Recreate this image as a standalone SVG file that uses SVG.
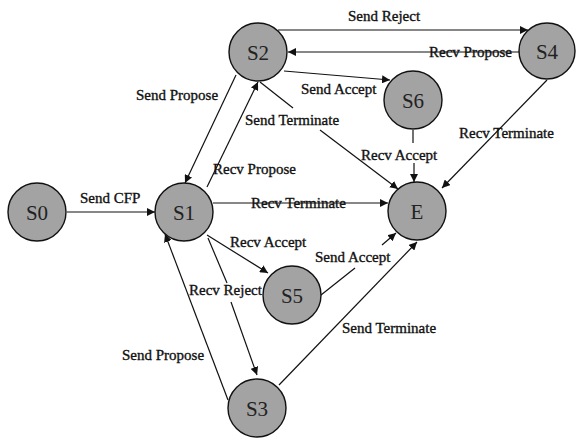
<svg xmlns="http://www.w3.org/2000/svg" width="576" height="438" viewBox="0 0 576 438">
<style>
.node circle{fill:#a3a3a3;stroke:#111;stroke-width:1.4}
.node text{font-family:"Liberation Serif",serif;font-size:21px;fill:#222;text-anchor:middle}
.edge{stroke:#111;stroke-width:1.2;fill:none}
.lbl{font-family:"Liberation Serif",serif;font-size:15px;fill:#111;stroke:#111;stroke-width:0.35}
</style>
<defs>
<marker id="ah" viewBox="0 0 10 10" refX="10" refY="5" markerWidth="8" markerHeight="8" markerUnits="userSpaceOnUse" orient="auto">
<path d="M0,0 L10,5 L0,10 z" fill="#111"/>
</marker>
</defs>
<rect width="576" height="438" fill="#fff"/>
<g id="connectors">
<line class="edge" x1="67" y1="212" x2="155" y2="212" marker-end="url(#ah)"/>
<line class="edge" x1="213" y1="203" x2="388" y2="203" marker-end="url(#ah)"/>
<line class="edge" x1="236" y1="75" x2="185" y2="183" marker-end="url(#ah)"/>
<line class="edge" x1="207" y1="187" x2="258" y2="82" marker-end="url(#ah)"/>
<line class="edge" x1="278" y1="30" x2="528" y2="30" marker-end="url(#ah)"/>
<line class="edge" x1="520" y1="52" x2="288" y2="52" marker-end="url(#ah)"/>
<line class="edge" x1="284" y1="71" x2="390" y2="80" marker-end="url(#ah)"/>
<polyline class="edge" points="260,82 293,108"/>
<line class="edge" x1="320" y1="130" x2="398" y2="189" marker-end="url(#ah)"/>
<line class="edge" x1="413" y1="130" x2="413" y2="143"/>
<line class="edge" x1="414" y1="163" x2="414" y2="182" marker-end="url(#ah)"/>
<line class="edge" x1="547" y1="80" x2="442" y2="188" marker-end="url(#ah)"/>
<line class="edge" x1="207" y1="235" x2="268" y2="273" marker-end="url(#ah)"/>
<line class="edge" x1="208" y1="238" x2="227" y2="283"/>
<line class="edge" x1="231" y1="302" x2="257" y2="375" marker-end="url(#ah)"/>
<line class="edge" x1="228" y1="400" x2="165" y2="234" marker-end="url(#ah)"/>
<line class="edge" x1="321" y1="295" x2="355" y2="268"/>
<line class="edge" x1="382" y1="245" x2="396" y2="233" marker-end="url(#ah)"/>
<line class="edge" x1="279" y1="385" x2="417" y2="242" marker-end="url(#ah)"/>
</g>
<g id="labels">
<text class="lbl" x="80" y="203">Send CFP</text>
<text class="lbl" x="251" y="208">Recv Terminate</text>
<text class="lbl" x="136" y="100">Send Propose</text>
<text class="lbl" x="213" y="174">Recv Propose</text>
<text class="lbl" x="348" y="21">Send Reject</text>
<text class="lbl" x="429" y="57">Recv Propose</text>
<text class="lbl" x="301" y="94">Send Accept</text>
<text class="lbl" x="245" y="125">Send Terminate</text>
<text class="lbl" x="361" y="160">Recv Accept</text>
<text class="lbl" x="459" y="138">Recv Terminate</text>
<text class="lbl" x="230" y="247">Recv Accept</text>
<text class="lbl" x="189" y="295">Recv Reject</text>
<text class="lbl" x="122" y="360">Send Propose</text>
<text class="lbl" x="315" y="262">Send Accept</text>
<text class="lbl" x="342" y="333">Send Terminate</text>
</g>
<g id="S0" class="node"><circle cx="37" cy="212" r="29"/><text x="37" y="220">S0</text></g>
<g id="S1" class="node"><circle cx="184" cy="212" r="29"/><text x="184" y="220">S1</text></g>
<g id="S2" class="node"><circle cx="258" cy="52" r="29"/><text x="258" y="60">S2</text></g>
<g id="S4" class="node"><circle cx="547" cy="51" r="28"/><text x="547" y="59">S4</text></g>
<g id="S6" class="node"><circle cx="413" cy="100" r="29"/><text x="413" y="108">S6</text></g>
<g id="E" class="node"><circle cx="417" cy="211" r="29"/><text x="417" y="219">E</text></g>
<g id="S5" class="node"><circle cx="292" cy="295" r="29"/><text x="292" y="303">S5</text></g>
<g id="S3" class="node"><circle cx="257" cy="408" r="29"/><text x="257" y="416">S3</text></g>
</svg>
